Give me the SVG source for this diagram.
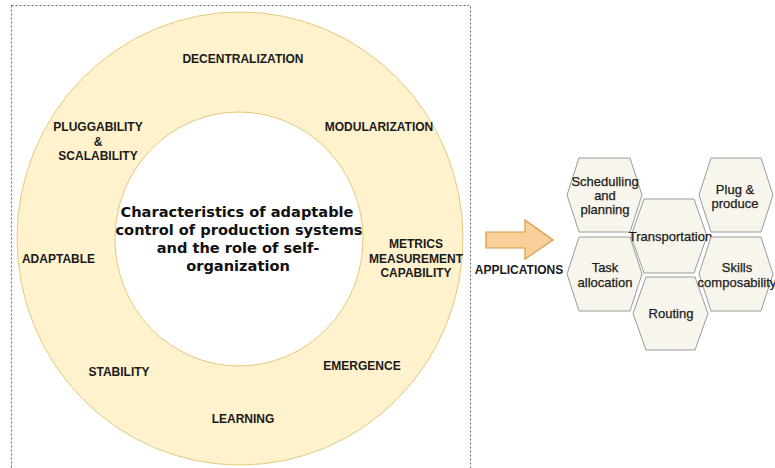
<svg xmlns="http://www.w3.org/2000/svg" width="775" height="468" viewBox="0 0 775 468">
<style>
.ring{fill:#fff2cc;stroke:#e2c97e;stroke-width:1}
.lbl{font-family:"Liberation Sans",Arial,sans-serif;font-weight:bold;font-size:12px;fill:#1a1a1a;text-anchor:middle}
.ctr{font-family:"DejaVu Sans",Verdana,sans-serif;font-weight:bold;font-size:14.6px;fill:#111;text-anchor:middle}
.hex{fill:#f8f5ec;stroke:#9a9a9a;stroke-width:1}
.ht{font-family:"Liberation Sans",Arial,sans-serif;font-size:13px;fill:#1a1a1a;stroke:#1a1a1a;stroke-width:0.25;text-anchor:middle}
</style>
<rect x="11.5" y="5.5" width="459" height="480" fill="none" stroke="#666" stroke-width="1" stroke-dasharray="2 2"/>
<g id="ring">
<ellipse class="ring" cx="240" cy="238.5" rx="223" ry="226.5"/>
<ellipse cx="239" cy="239" rx="124" ry="127" fill="#ffffff" stroke="#e2c97e" stroke-width="1"/>
</g>
<g id="center">
<text class="ctr" x="237" y="217">Characteristics of adaptable</text>
<text class="ctr" x="239" y="235">control of production systems</text>
<text class="ctr" x="238" y="253">and the role of self-</text>
<text class="ctr" x="238" y="270.5">organization</text>
</g>
<g id="decentralization"><text class="lbl" x="243" y="63">DECENTRALIZATION</text></g>
<g id="pluggability"><text class="lbl" x="98" y="131">PLUGGABILITY</text><text class="lbl" x="98" y="146">&amp;</text><text class="lbl" x="98" y="160">SCALABILITY</text></g>
<g id="modularization"><text class="lbl" x="379" y="131">MODULARIZATION</text></g>
<g id="adaptable"><text class="lbl" x="58.5" y="263">ADAPTABLE</text></g>
<g id="metrics"><text class="lbl" x="416" y="248">METRICS</text><text class="lbl" x="416" y="263">MEASUREMENT</text><text class="lbl" x="416" y="277">CAPABILITY</text></g>
<g id="stability"><text class="lbl" x="119" y="376">STABILITY</text></g>
<g id="emergence"><text class="lbl" x="362" y="370">EMERGENCE</text></g>
<g id="learning"><text class="lbl" x="243" y="423">LEARNING</text></g>
<g id="connectors">
<polygon points="486,232 525,232 525,220 553,240 525,259 525,248 486,248" fill="#f9d09c" stroke="#dd9a40" stroke-width="1.2"/>
</g>
<g id="applications"><text class="lbl" x="519" y="274">APPLICATIONS</text></g>
<g id="scheduling">
<polygon class="hex" points="567,195 579,158 630,158 642,195 630,232 579,232"/>
<text class="ht" x="605" y="185.5">Schedulling</text><text class="ht" x="605" y="199.5">and</text><text class="ht" x="605" y="213.5">planning</text>
</g>
<g id="task">
<polygon class="hex" points="567,274 579,237 630,237 642,274 630,311 579,311"/>
<text class="ht" x="605" y="271.5">Task</text><text class="ht" x="605" y="286.5">allocation</text>
</g>
<g id="transportation">
<polygon class="hex" points="631,236 644,199 694,199 707,236 694,273 644,273"/>
<text class="ht" x="670.5" y="240.5">Transportation</text>
</g>
<g id="routing">
<polygon class="hex" points="633,313.5 646,277 695,277 708,313.5 695,350 646,350"/>
<text class="ht" x="671" y="317.5">Routing</text>
</g>
<g id="plug">
<polygon class="hex" points="699,195 711,158 761,158 773,195 761,232 711,232"/>
<text class="ht" x="735" y="193.5">Plug &amp;</text><text class="ht" x="735" y="207.5">produce</text>
</g>
<g id="skills">
<polygon class="hex" points="699,274 711,237 761,237 773,274 761,311 711,311"/>
<text class="ht" x="737" y="271.5">Skills</text><text class="ht" x="737" y="286.5">composability</text>
</g>
</svg>
